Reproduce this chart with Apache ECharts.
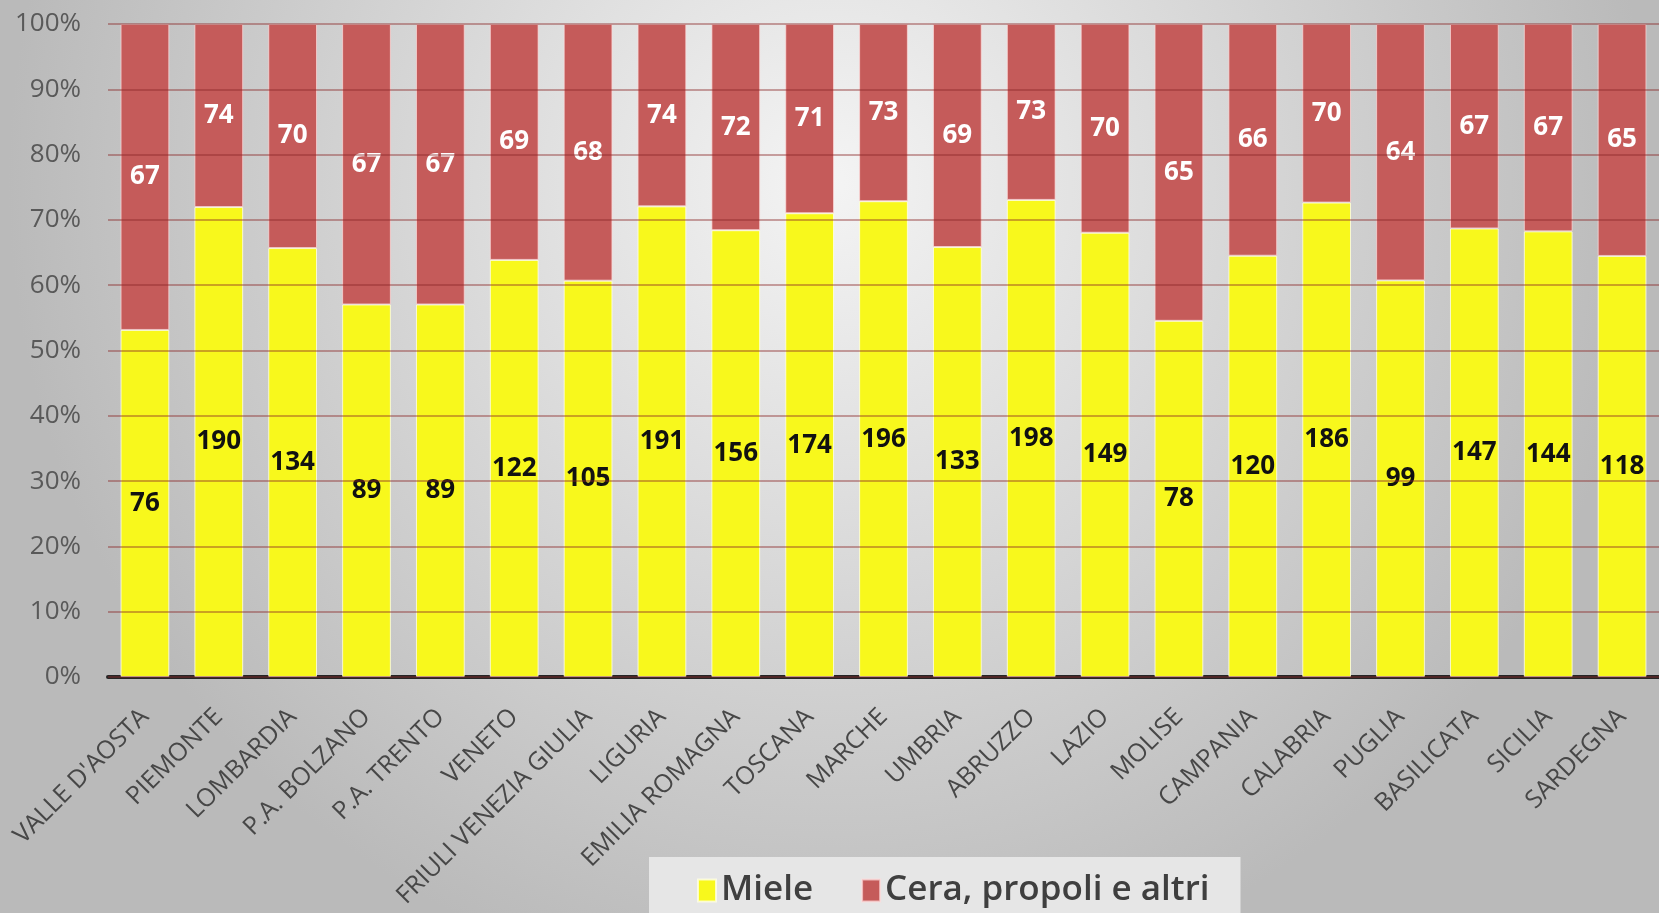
<!DOCTYPE html>
<html lang="it">

<head>
    <meta charset="UTF-8">
    <title>Miele e altri prodotti per regione</title>
    <style>
        html, body { margin: 0; padding: 0; }
        .show { width: 1659px; height: 913px; }
    </style>
</head>

<body>
    <div class="show"></div>
    <script src="https://cdn.jsdelivr.net/npm/echarts@6/dist/echarts.min.js"></script>
    <script>
        const regioni = ['VALLE D\'AOSTA', 'PIEMONTE', 'LOMBARDIA', 'P.A. BOLZANO', 'P.A. TRENTO', 'VENETO',
            'FRIULI VENEZIA GIULIA', 'LIGURIA', 'EMILIA ROMAGNA', 'TOSCANA', 'MARCHE', 'UMBRIA', 'ABRUZZO',
            'LAZIO', 'MOLISE', 'CAMPANIA', 'CALABRIA', 'PUGLIA', 'BASILICATA', 'SICILIA', 'SARDEGNA']
        const miele = [76, 190, 134, 89, 89, 122, 105, 191, 156, 174, 196, 133, 198, 149, 78, 120, 186, 99, 147, 144, 118]
        const cera = [67, 74, 70, 67, 67, 69, 68, 74, 72, 71, 73, 69, 73, 70, 65, 66, 70, 64, 67, 67, 65]

        const font = '"Open Sans", sans-serif'
        // grafico al 100%: ogni barra è la quota sul totale della regione
        const tot = miele.map((v, i) => v + cera[i])
        const quotaMiele = miele.map((v, i) => ({ value: v / tot[i], raw: v }))
        const quotaCera = cera.map((v, i) => ({ value: v / tot[i], raw: v }))

        const myChart = echarts.init(document.querySelector('.show'))
        const option = {
            backgroundColor: {
                type: 'radial', x: 0.5, y: 0.2, r: 0.9,
                colorStops: [{ offset: 0, color: '#f4f4f4' }, { offset: 1, color: '#bababa' }]
            },
            grid: { left: 108, top: 24, width: 1557, bottom: 236, containLabel: false },
            legend: {
                left: 649, top: 857,
                padding: [16, 31, 20, 48],
                backgroundColor: '#e6e6e6',
                itemWidth: 18, itemHeight: 22, itemGap: 48,
                icon: 'rect',
                textStyle: { fontFamily: font, fontSize: 35, color: '#3f3f3f', fontWeight: 600 },
                data: ['Miele', 'Cera, propoli e altri']
            },
            xAxis: {
                type: 'category',
                data: regioni,
                axisLine: { lineStyle: { color: '#262626', width: 4 } },
                axisTick: { show: false },
                axisLabel: {
                    interval: 0, rotate: 45, margin: 36,
                    fontFamily: font, fontSize: 25, color: '#474747'
                }
            },
            yAxis: {
                type: 'value',
                min: 0, max: 1, interval: 0.1,
                z: 3,
                axisLabel: {
                    margin: 27, fontFamily: font, fontSize: 26, color: '#595959',
                    formatter: v => Math.round(v * 100) + '%'
                },
                splitLine: { lineStyle: { color: 'rgba(140,40,40,0.55)', width: 1.5 } }
            },
            series: [{
                name: 'Miele',
                type: 'bar',
                stack: 'tot',
                barCategoryGap: '34%',
                data: quotaMiele,
                itemStyle: { color: '#f8f81c', borderColor: 'rgba(255,255,230,0.8)', borderWidth: 1 },
                label: {
                    show: true, position: 'inside',
                    formatter: p => p.data.raw,
                    fontFamily: font, fontSize: 26, fontWeight: 'bold', color: '#111'
                }
            },
            {
                name: 'Cera, propoli e altri',
                type: 'bar',
                stack: 'tot',
                data: quotaCera,
                itemStyle: { color: '#c55b5a', borderColor: 'rgba(255,220,220,0.7)', borderWidth: 1 },
                label: {
                    show: true, position: 'inside',
                    formatter: p => p.data.raw,
                    fontFamily: font, fontSize: 26, fontWeight: 'bold', color: '#ffffff'
                }
            }]
        }

        myChart.setOption(option)
    </script>
</body>

</html>
